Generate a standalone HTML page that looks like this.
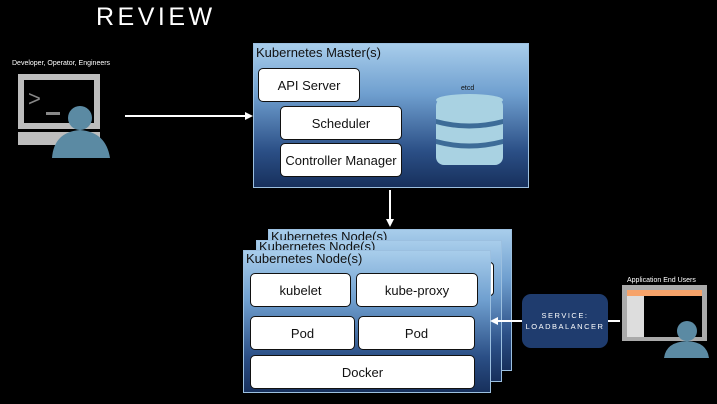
<!DOCTYPE html>
<html><head><meta charset="utf-8"><style>
body{margin:0;width:717px;height:404px;background:#000;position:relative;overflow:hidden;font-family:"Liberation Sans",sans-serif}
.a{position:absolute}
.grad{background:linear-gradient(#a8cdeb,#6f9fcf 35%,#2b4f86 75%,#17305c);border:1px solid #9cc0e0;box-sizing:border-box}
.w{position:absolute;background:#fff;border:1.5px solid #111;border-radius:5px;box-sizing:border-box;display:flex;align-items:center;justify-content:center;font-size:13px;color:#111}
</style></head><body>
<div class="a" style="left:96px;top:3px;font-size:25px;color:#fff;letter-spacing:3.5px;font-weight:300">REVIEW</div>
<div class="a" style="left:12px;top:60px;font-size:7px;color:#fff">Developer, Operator, Engineers</div>
<svg class="a" style="left:0;top:0" width="717" height="404">
<rect x="18" y="74" width="82" height="55" fill="#bdbdbd"/><rect x="24" y="80" width="70" height="43" fill="#000"/>
<text x="28" y="106" fill="#888" font-size="22" font-family="Liberation Sans">&gt;</text>
<rect x="46" y="112" width="14" height="3" fill="#888"/>
<rect x="18" y="132" width="82" height="13" fill="#bdbdbd"/>
<circle cx="80" cy="118" r="12" fill="#5b8aa3"/>
<path d="M52 158 Q54 132 80 130 Q106 132 110 158 Z" fill="#5b8aa3"/>
<line x1="125" y1="116" x2="246" y2="116" stroke="#fff" stroke-width="2"/><polygon points="253,116 245,112 245,120" fill="#fff"/>
<line x1="390" y1="190" x2="390" y2="220" stroke="#fff" stroke-width="2"/><polygon points="390,227 386,219 394,219" fill="#fff"/>
<line x1="607" y1="321" x2="620" y2="321" stroke="#fff" stroke-width="2"/>
<rect x="622" y="285" width="85" height="56" fill="#aaa"/><rect x="627" y="290" width="75" height="6" fill="#f6a36a"/>
<rect x="627" y="296" width="17" height="41" fill="#ddd"/><rect x="644" y="296" width="58" height="41" fill="#000"/>
<circle cx="687" cy="331" r="10" fill="#5b8aa3"/><path d="M664 358 Q666 342 687 341 Q707 342 709 358Z" fill="#5b8aa3"/>
</svg>
<div class="a grad" style="left:253px;top:43px;width:276px;height:145px"></div>
<div class="a" style="left:256px;top:45px;font-size:13px;color:#111">Kubernetes Master(s)</div>
<div class="w" style="left:258px;top:68px;width:102px;height:34px">API Server</div>
<div class="w" style="left:280px;top:106px;width:122px;height:34px">Scheduler</div>
<div class="w" style="left:280px;top:143px;width:122px;height:34px">Controller Manager</div>
<div class="a" style="left:461px;top:85px;font-size:7px;color:#111">etcd</div>
<svg class="a" style="left:430px;top:90px" width="80" height="80">
<rect x="6" y="8" width="67" height="67" rx="8" fill="#a9d2e2"/>
<ellipse cx="39.5" cy="10" rx="33.5" ry="6" fill="#a9d2e2"/>
<path d="M6 29 Q39 38 73 29 L73 34 Q39 43 6 34Z" fill="#3d6c98"/>
<path d="M6 49 Q39 58 73 49 L73 54 Q39 63 6 54Z" fill="#3d6c98"/>
</svg>
<div class="a grad" style="left:268px;top:229px;width:244px;height:142px"></div>
<div class="a" style="left:271px;top:229px;font-size:13px;color:#111;height:11px;overflow:hidden">Kubernetes Node(s)</div>
<div class="a grad" style="left:256px;top:240px;width:246px;height:142px"></div>
<div class="a" style="left:259px;top:239px;font-size:13px;color:#111;height:12px;overflow:hidden">Kubernetes Node(s)</div>
<div class="a" style="left:480px;top:262px;width:12px;height:32px;background:#fff;border-radius:4px;border:1px solid #111"></div>
<div class="a grad" style="left:243px;top:250px;width:248px;height:143px"></div>
<div class="a" style="left:246px;top:251px;font-size:13px;color:#111">Kubernetes Node(s)</div>
<div class="w" style="left:250px;top:273px;width:101px;height:34px">kubelet</div>
<div class="w" style="left:356px;top:273px;width:122px;height:34px">kube-proxy</div>
<div class="w" style="left:250px;top:316px;width:105px;height:34px">Pod</div>
<div class="w" style="left:358px;top:316px;width:117px;height:34px">Pod</div>
<div class="w" style="left:250px;top:355px;width:225px;height:34px">Docker</div>
<svg class="a" style="left:480px;top:310px" width="45" height="22">
<line x1="17" y1="11" x2="42" y2="11" stroke="#fff" stroke-width="2"/><polygon points="10,11 18,7 18,15" fill="#fff"/>
</svg>
<div class="a" style="left:522px;top:294px;width:86px;height:54px;background:#1f3c6e;border-radius:9px;color:#fff;font-size:7.5px;letter-spacing:1.5px;text-align:center;line-height:11px;display:flex;align-items:center;justify-content:center">SERVICE:<br>LOADBALANCER</div>
<div class="a" style="left:627px;top:277px;font-size:7px;color:#fff">Application End Users</div>
</body></html>
